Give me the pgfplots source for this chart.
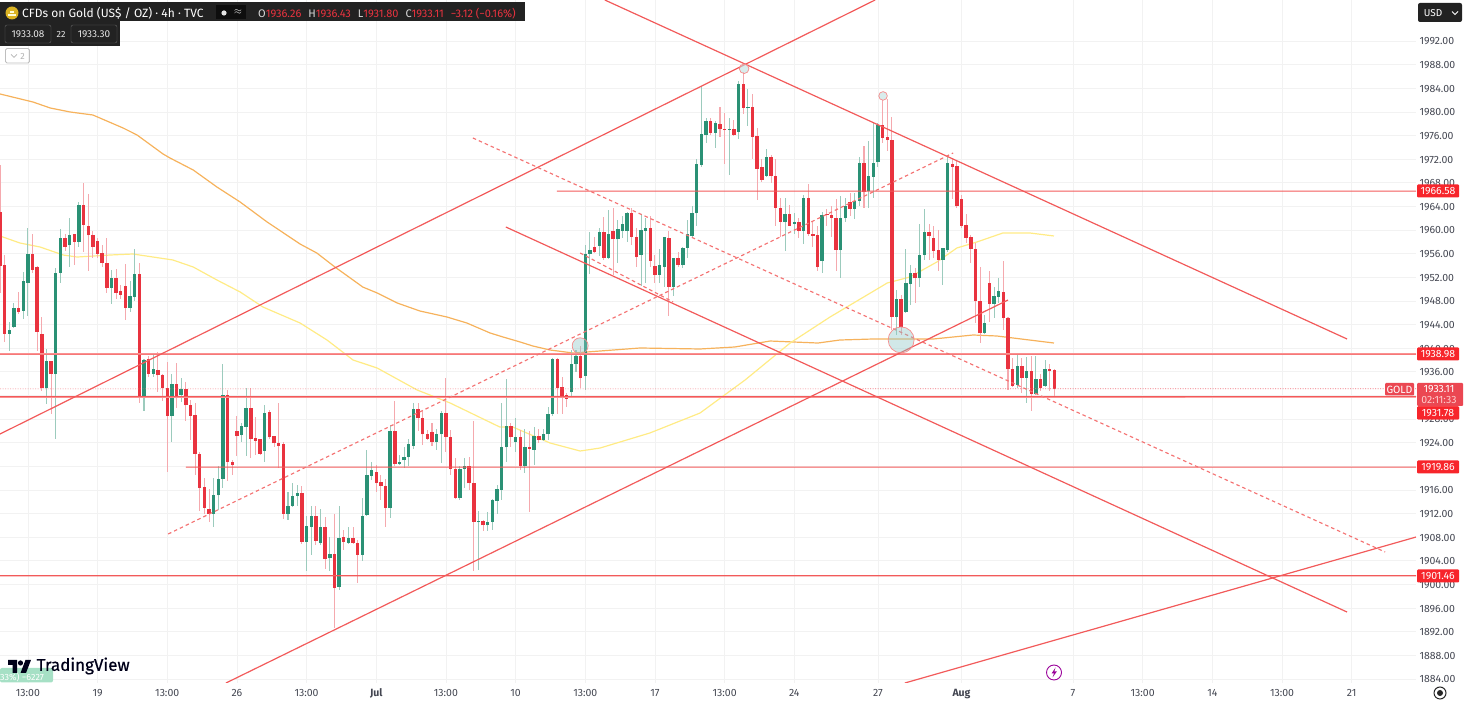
\documentclass[border=0pt]{standalone}
\usepackage{pgfplots}
\usepackage{pgfplotstable}
\usepackage{fontspec}
\setmainfont{Fira Sans}
\pgfplotsset{compat=1.18}
\definecolor{upc}{HTML}{2A9175}
\definecolor{dnc}{HTML}{E9333F}
\definecolor{upw}{HTML}{9CCBBD}
\definecolor{dnw}{HTML}{F5A9AE}
\definecolor{tl}{HTML}{F25A5A}
\definecolor{tlpale}{HTML}{FFB0B0}
\definecolor{hdr}{HTML}{222222}
\definecolor{txt}{HTML}{434651}
\definecolor{badge}{HTML}{F7252B}
\definecolor{maO}{HTML}{F6B25C}
\definecolor{maY}{HTML}{FFEB85}
\pgfplotstableread{
i o h l c
0 1963.1 1971.0 1949.3 1953.9
1 1954.0 1955.8 1941.1 1942.4
2 1942.4 1944.4 1939.6 1943.0
3 1943.6 1947.7 1943.4 1946.8
4 1946.8 1949.5 1945.8 1946.1
5 1946.3 1952.9 1944.9 1951.3
6 1951.1 1960.3 1945.5 1956.0
7 1956.0 1959.3 1952.8 1953.3
8 1953.7 1953.9 1939.5 1942.8
9 1942.4 1945.3 1932.8 1933.2
10 1933.2 1939.8 1930.6 1937.9
11 1937.8 1937.9 1928.9 1935.6
12 1935.6 1953.5 1924.7 1952.8
13 1952.8 1960.2 1951.0 1958.7
14 1958.7 1959.4 1956.5 1957.2
15 1957.4 1962.0 1953.7 1959.2
16 1959.3 1959.4 1954.1 1958.0
17 1958.0 1964.7 1957.1 1964.2
18 1964.2 1967.9 1956.2 1960.9
19 1960.7 1966.1 1953.0 1959.1
20 1959.2 1959.8 1955.2 1957.2
21 1958.1 1958.6 1955.2 1955.9
22 1956.1 1957.5 1953.8 1954.4
23 1954.5 1958.7 1949.3 1950.2
24 1950.2 1953.2 1947.5 1951.9
25 1951.9 1953.4 1948.4 1949.3
26 1949.6 1950.7 1948.3 1949.0
27 1950.5 1954.3 1944.7 1946.8
28 1946.8 1951.3 1946.2 1948.8
29 1948.7 1956.8 1948.0 1952.6
30 1952.6 1954.5 1930.7 1931.8
31 1931.8 1938.1 1929.4 1938.0
32 1938.1 1938.7 1935.2 1935.6
33 1935.7 1938.9 1935.2 1936.4
34 1936.3 1939.4 1932.5 1935.4
35 1935.4 1935.7 1931.0 1933.2
36 1933.2 1937.7 1919.1 1928.5
37 1928.5 1935.7 1924.2 1934.0
38 1934.0 1937.5 1929.8 1931.5
39 1932.1 1934.9 1930.9 1933.1
40 1933.1 1934.2 1927.6 1930.3
41 1930.4 1931.3 1924.5 1928.6
42 1928.7 1930.7 1918.5 1922.1
43 1922.0 1922.5 1912.5 1916.4
44 1916.5 1918.0 1912.0 1913.0
45 1912.8 1916.2 1910.5 1912.0
46 1912.0 1918.0 1909.8 1915.1
47 1915.1 1920.1 1912.6 1917.9
48 1917.9 1937.3 1916.3 1932.1
49 1932.1 1933.0 1917.5 1920.8
50 1920.8 1921.0 1918.5 1920.2
51 1926.0 1928.5 1921.8 1925.1
52 1925.3 1927.3 1924.2 1926.8
53 1926.7 1933.2 1921.8 1929.8
54 1929.8 1933.2 1921.4 1924.6
55 1924.8 1928.4 1921.9 1924.3
56 1924.6 1924.7 1921.9 1922.1
57 1922.6 1930.4 1920.7 1929.1
58 1929.2 1929.6 1924.6 1924.9
59 1925.1 1925.2 1923.2 1923.9
60 1924.0 1930.7 1919.7 1923.5
61 1923.8 1924.2 1911.1 1912.0
62 1912.0 1915.7 1910.9 1913.2
63 1913.3 1917.1 1913.2 1915.0
64 1915.0 1916.8 1913.2 1915.5
65 1915.5 1916.6 1906.9 1907.2
66 1907.2 1911.6 1902.3 1909.9
67 1909.7 1913.3 1905.0 1911.6
68 1911.6 1913.2 1906.7 1907.4
69 1907.0 1912.8 1906.7 1909.8
70 1909.8 1911.5 1902.6 1904.3
71 1904.4 1908.1 1902.2 1905.1
72 1905.1 1912.0 1892.7 1899.4
73 1899.6 1913.2 1899.1 1907.9
74 1908.0 1909.2 1905.8 1907.2
75 1907.0 1909.7 1906.9 1907.9
76 1907.9 1909.8 1906.9 1907.1
77 1907.1 1907.5 1900.2 1905.0
78 1905.0 1914.6 1903.9 1911.6
79 1911.8 1922.7 1911.6 1918.6
80 1918.4 1920.8 1917.6 1919.4
81 1919.0 1920.2 1915.6 1917.1
82 1917.3 1918.5 1914.3 1916.7
83 1916.7 1917.8 1909.8 1913.0
84 1913.0 1927.0 1911.3 1926.0
85 1926.0 1931.1 1920.1 1920.4
86 1920.4 1921.9 1920.2 1920.7
87 1921.0 1923.2 1919.7 1921.6
88 1921.5 1924.7 1920.1 1923.7
89 1923.5 1930.7 1923.0 1929.7
90 1929.7 1930.7 1925.9 1928.1
91 1928.2 1929.3 1923.6 1925.4
92 1925.4 1926.1 1924.5 1924.7
93 1925.8 1927.3 1923.4 1924.1
94 1924.1 1926.4 1922.8 1925.4
95 1925.4 1929.3 1920.6 1929.0
96 1929.0 1935.0 1922.5 1925.0
97 1925.0 1926.1 1918.5 1919.5
98 1919.5 1921.4 1914.4 1914.7
99 1914.7 1920.1 1914.3 1919.5
100 1919.5 1921.4 1916.3 1920.1
101 1920.1 1921.5 1916.0 1917.1
102 1917.1 1927.6 1902.3 1910.6
103 1910.5 1912.4 1902.4 1910.7
104 1910.7 1910.9 1909.1 1910.0
105 1910.0 1912.3 1909.1 1910.6
106 1910.6 1914.4 1909.3 1914.3
107 1914.1 1916.8 1912.0 1916.1
108 1916.0 1930.7 1914.3 1923.2
109 1923.2 1934.8 1920.8 1926.9
110 1926.9 1927.3 1923.3 1924.9
111 1924.1 1928.1 1922.5 1924.9
112 1924.9 1926.1 1919.4 1920.1
113 1920.1 1926.3 1918.8 1923.3
114 1923.3 1925.9 1912.3 1922.9
115 1922.8 1926.6 1920.2 1925.2
116 1925.2 1926.4 1923.9 1924.5
117 1924.5 1926.3 1924.3 1925.5
118 1925.4 1930.1 1924.5 1928.9
119 1928.9 1938.3 1928.5 1938.1
120 1938.2 1938.3 1928.9 1933.2
121 1933.4 1935.2 1928.9 1931.9
122 1932.0 1932.4 1930.1 1931.4
123 1932.5 1939.7 1931.8 1937.4
124 1937.3 1939.7 1936.0 1938.7
125 1938.6 1940.3 1933.2 1934.9
126 1935.3 1957.4 1933.0 1955.9
127 1955.9 1959.6 1952.6 1956.7
128 1957.2 1958.9 1956.1 1956.2
129 1957.3 1960.4 1955.6 1959.6
130 1959.6 1962.2 1954.9 1955.3
131 1955.3 1963.4 1955.2 1959.4
132 1959.8 1963.7 1952.4 1958.4
133 1958.4 1961.7 1954.4 1960.1
134 1959.8 1962.3 1958.6 1961.1
135 1959.9 1963.1 1957.9 1962.8
136 1962.8 1963.7 1957.5 1958.8
137 1958.9 1960.3 1953.8 1955.4
138 1955.8 1962.7 1950.5 1960.0
139 1959.9 1962.0 1951.0 1960.3
140 1960.3 1962.4 1953.8 1954.8
141 1953.9 1955.8 1951.0 1952.4
142 1952.4 1956.8 1951.0 1954.0
143 1953.8 1958.9 1950.4 1958.8
144 1958.6 1959.8 1945.4 1950.4
145 1950.3 1955.2 1948.8 1955.2
146 1955.2 1956.3 1953.8 1954.1
147 1954.1 1957.2 1953.5 1957.0
148 1957.0 1961.7 1955.2 1959.3
149 1959.0 1964.1 1958.9 1962.9
150 1962.8 1972.1 1960.6 1971.2
151 1971.0 1984.4 1970.7 1976.2
152 1976.1 1979.0 1974.7 1978.5
153 1978.5 1979.0 1976.1 1976.5
154 1976.5 1978.5 1973.8 1978.1
155 1978.0 1980.8 1975.8 1977.1
156 1977.1 1979.8 1971.2 1976.9
157 1976.9 1978.9 1969.3 1977.1
158 1977.1 1978.6 1976.0 1976.1
159 1976.6 1985.2 1975.4 1984.8
160 1984.8 1986.8 1979.6 1980.7
161 1980.6 1983.9 1977.6 1980.8
162 1980.8 1983.1 1972.0 1975.8
163 1975.9 1977.3 1965.1 1970.4
164 1970.6 1972.1 1968.1 1968.5
165 1969.2 1973.7 1969.0 1972.3
166 1972.3 1972.7 1967.9 1969.1
167 1969.2 1972.1 1960.6 1963.8
168 1963.8 1965.4 1958.9 1961.4
169 1961.4 1965.4 1956.5 1962.7
170 1962.7 1964.2 1960.6 1960.7
171 1961.0 1962.8 1959.4 1961.4
172 1961.4 1962.1 1958.6 1959.8
173 1959.9 1966.0 1957.6 1965.4
174 1965.4 1967.8 1959.0 1959.3
175 1959.3 1961.4 1957.1 1959.0
176 1959.1 1960.6 1953.0 1953.7
177 1954.8 1963.1 1952.8 1962.6
178 1962.7 1963.5 1960.6 1962.5
179 1962.6 1964.0 1958.9 1962.0
180 1962.0 1965.2 1953.0 1956.6
181 1956.6 1965.7 1951.9 1962.0
182 1962.0 1965.4 1961.4 1964.0
183 1964.8 1966.2 1962.4 1963.6
184 1963.6 1966.2 1961.8 1964.9
185 1964.9 1972.4 1964.0 1971.4
186 1971.4 1974.3 1963.7 1966.5
187 1966.6 1975.1 1963.8 1969.2
188 1969.0 1978.1 1965.5 1971.4
189 1971.5 1978.1 1970.6 1977.7
190 1977.7 1982.0 1974.7 1975.6
191 1975.7 1982.1 1973.3 1975.2
192 1975.2 1979.2 1943.1 1945.3
193 1945.3 1949.9 1942.2 1948.4
194 1948.4 1949.0 1942.2 1943.6
195 1946.1 1956.8 1945.9 1951.1
196 1950.8 1954.1 1947.3 1952.7
197 1952.7 1953.6 1947.7 1951.8
198 1951.8 1961.1 1950.4 1955.7
199 1955.8 1963.5 1954.9 1959.6
200 1959.6 1961.0 1954.9 1959.0
201 1958.7 1960.6 1955.2 1956.5
202 1956.6 1960.0 1953.1 1954.9
203 1954.9 1956.9 1950.7 1956.9
204 1956.7 1972.5 1956.2 1971.3
205 1971.2 1972.1 1965.3 1970.7
206 1970.8 1971.9 1963.7 1964.0
207 1965.2 1966.0 1960.3 1960.7
208 1960.9 1962.7 1957.8 1958.7
209 1958.8 1959.2 1954.4 1956.8
210 1956.8 1957.8 1944.2 1947.9
211 1947.9 1953.8 1940.8 1942.5
212 1942.6 1945.6 1942.5 1944.2
213 1951.1 1953.0 1944.4 1947.5
214 1947.5 1950.4 1945.1 1948.9
215 1948.7 1951.8 1947.6 1949.6
216 1949.5 1954.8 1943.1 1945.1
217 1945.1 1945.2 1932.9 1936.4
218 1936.5 1938.3 1933.4 1933.6
219 1933.8 1938.9 1933.2 1936.9
220 1936.9 1938.3 1932.4 1935.0
221 1935.0 1938.5 1930.8 1936.1
222 1936.1 1938.6 1929.3 1932.2
223 1932.2 1938.7 1932.1 1934.7
224 1934.7 1935.7 1932.8 1933.2
225 1933.6 1938.0 1933.5 1936.5
226 1936.5 1937.4 1932.8 1936.1
227 1936.26 1936.43 1931.80 1933.11
}\ohlc
\begin{document}
\begin{tikzpicture}
\useasboundingbox (0,0) rectangle (1465pt,703pt);
\begin{axis}[
  at={(0pt,20pt)}, anchor=south west, scale only axis,
  width=1416pt, height=683pt,
  xmin=0, xmax=304.84, ymin=1883.32, ymax=1998.94,
  axis line style={draw=none},
  clip mode=individual,
  major tick length=0pt,
  grid=major, grid style={color=black!5, line width=0.7pt},
  ytick={1884,1888,...,1992},
  yticklabel pos=right,
  xtick={6,21,36,51,66,81,96,111,126,141,156,171,189,207,231,246,261,276,291},
  xticklabels={13:00,19,13:00,26,13:00,\textbf{Jul},13:00,10,13:00,17,13:00,24,27,\textbf{Aug},7,13:00,14,13:00,21},
  yticklabel style={/pgf/number format/.cd, fixed, fixed zerofill, precision=2, 1000 sep={}, assume math mode=true, /tikz/yshift=-0.5pt},
  xticklabel style={yshift=-2.5pt},
  every tick label/.append style={font=\fontsize{10.5}{12}\selectfont, text=txt},
]
% moving averages
\addplot[color=maO, line width=1.2pt] coordinates {
(0,1983.03)(7.1,1981.67)(10.8,1980.66)(15.1,1979.98)(20,1979.47)(26.5,1977.27)(29.5,1976.09)(35.1,1972.87)(36.6,1972.19)(41.6,1970.16)(46.7,1967.28)(51.7,1964.74)(57.5,1961.36)(64.6,1957.63)(68.2,1956.11)(72.1,1953.74)(75.4,1951.88)(78.1,1950.35)(81.2,1949.34)(85.5,1947.65)(90.4,1946.29)(96.2,1945.28)(100.5,1944.26)(105.5,1942.57)(108.3,1941.89)(112,1941.04)(114.7,1940.37)(118.4,1939.69)(123.4,1939.18)(129.2,1939.52)(137.8,1940.03)(150.7,1939.86)(158.2,1940.2)(165.8,1941.21)(176.1,1940.87)(180.8,1941.38)(187.9,1941.55)(200.9,1941.55)(209.5,1942.23)(214.6,1942.06)(226.9,1940.87)};
\addplot[color=maY, line width=1.2pt] coordinates {
(0,1958.99)(4.3,1957.8)(8.6,1957.13)(13.6,1955.77)(16.6,1955.43)(23.7,1955.77)(28.6,1955.94)(37.2,1954.93)(41.6,1953.74)(46.7,1951.54)(51.7,1949.51)(56.6,1946.97)(59.6,1945.95)(64.6,1944.26)(70.4,1941.38)(76,1938)(81.2,1936.64)(89.8,1932.92)(96.9,1930.72)(107.6,1926.65)(110.4,1926.65)(118.4,1923.95)(124.9,1922.59)(129.2,1923.1)(139.9,1925.64)(150.7,1929.02)(160.4,1934.61)(170.1,1940.87)(178.7,1945.28)(191,1951.03)(195.9,1952.05)(201.7,1954.59)(206,1956.96)(210.3,1957.97)(215.9,1959.5)(221.7,1959.5)(226.9,1958.99)};
% wicks
\addplot[draw=none, mark=none, restrict expr to domain={\thisrow{c}-\thisrow{o}}{0:1000},
  error bars/.cd, y dir=both, y explicit, error mark=none, error bar style={line width=1.05pt, draw=upw}]
  table[x=i, y=o, y error plus expr=\thisrow{h}-\thisrow{o}, y error minus expr=\thisrow{o}-\thisrow{l}] {\ohlc};
\addplot[draw=none, mark=none, restrict expr to domain={\thisrow{c}-\thisrow{o}}{-1000:0},
  error bars/.cd, y dir=both, y explicit, error mark=none, error bar style={line width=1.05pt, draw=dnw}]
  table[x=i, y=o, y error plus expr=\thisrow{h}-\thisrow{o}, y error minus expr=\thisrow{o}-\thisrow{l}] {\ohlc};
% bodies
\addplot[draw=none, mark=none, restrict expr to domain={\thisrow{c}-\thisrow{o}}{0:1000},
  error bars/.cd, y dir=plus, y explicit, error mark=none, error bar style={line width=3.4pt, draw=upc}]
  table[x=i, y=o, y error plus expr=\thisrow{c}-\thisrow{o}] {\ohlc};
\addplot[draw=none, mark=none, restrict expr to domain={\thisrow{c}-\thisrow{o}}{-1000:0},
  error bars/.cd, y dir=plus, y explicit, error mark=none, error bar style={line width=3.4pt, draw=dnc}]
  table[x=i, y=c, y error plus expr=\thisrow{o}-\thisrow{c}] {\ohlc};
% price line
\addplot[draw=dnc!70, dash pattern=on 1pt off 1.5pt, line width=0.7pt] coordinates {(0,1933.11)(304.84,1933.115)};
% horizontal levels
\addplot[draw=tlpale, line width=2.4pt] coordinates {(0,1938.98)(304.84,1938.98)};
\addplot[draw=tlpale, line width=2.4pt] coordinates {(0,1931.78)(304.84,1931.78)};
\addplot[draw=tl, line width=1.1pt] coordinates {(0,1938.98)(304.84,1938.985)};
\addplot[draw=tl, line width=1.1pt] coordinates {(0,1931.78)(304.84,1931.785)};
\addplot[draw=tl, line width=1.2pt] coordinates {(119.9,1966.58)(304.84,1966.585)};
\addplot[draw=tl, line width=1.2pt] coordinates {(40,1919.86)(304.84,1919.865)};
\addplot[draw=tl, line width=1.2pt] coordinates {(0,1901.46)(304.84,1901.465)};
% trend lines
\addplot[color=tl, line width=1.2pt] coordinates {(0,1925.47)(188.4,1998.94)};
\addplot[color=tl, line width=1.2pt] coordinates {(130.2,1998.94)(290,1941.55)};
\addplot[color=tl, line width=1.2pt] coordinates {(108.9,1960.51)(290,1895.33)};
\addplot[color=tl, line width=1.2pt] coordinates {(48.65,1883.32)(217,1948.15)};
\addplot[color=tl, line width=1.2pt] coordinates {(194.8,1883.32)(304.84,1908.03)};
\addplot[color=tl!85, dash pattern=on 3.5pt off 3pt, line width=1.15pt] coordinates {(36.2,1908.54)(205.2,1973.04)};
\addplot[color=tl!85, dash pattern=on 3.5pt off 3pt, line width=1.15pt] coordinates {(101.8,1975.58)(298.2,1905.49)};
\addplot[color=tl!85, dash pattern=on 3.5pt off 3pt, line width=1.15pt] coordinates {(124.9,1956.11)(144.9,1947.82)};
% markers
\addplot[only marks, mark=*, mark size=13pt, mark options={draw=tl!70, fill=teal!45!white, fill opacity=0.4, line width=0.7pt}] coordinates {(194,1941.4)};
\addplot[only marks, mark=*, mark size=8pt, mark options={draw=tl!70, fill=teal!45!white, fill opacity=0.4, line width=0.7pt}] coordinates {(124.9,1940.4)};
\addplot[only marks, mark=*, mark size=4.8pt, mark options={draw=tl!70, fill=teal!25!white, fill opacity=0.6, line width=0.7pt}] coordinates {(160.2,1987.3)};
\addplot[only marks, mark=*, mark size=4.3pt, mark options={draw=tl!70, fill=teal!25!white, fill opacity=0.6, line width=0.7pt}] coordinates {(190.1,1982.7)};
\end{axis}
\begin{scope}[x=1pt,y=-1pt,yshift=703pt]
\tikzset{lab/.style={font=\fontsize{10.5}{12}\selectfont, text=white, inner sep=0pt}}
% price badges
\foreach \y/\t in {191/1966.58,354/1938.98,413/1931.78,467/1919.86,576/1901.46}{
  \fill[badge,rounded corners=1pt] (1417,\y-6.5) rectangle (1459,\y+6.5);
  \node[lab] at (1438,\y) {\t};
}
\fill[dnc!90!white,rounded corners=1pt] (1417,383) rectangle (1463,406);
\node[lab] at (1439,389.5) {1933.11};
\node[lab,text=white!80!red] at (1439,400) {02:11:33};
\fill[badge,rounded corners=1pt] (1417,406.5) rectangle (1459,419.5);
\node[lab] at (1438,413) {1931.78};
\fill[dnc!90!white,rounded corners=1pt] (1385,383) rectangle (1414,395.5);
\node[lab] at (1399.5,389.5) {GOLD};
% header
\fill[hdr] (0,2) rectangle (525,21.5);
\fill[hdr] (0,21.5) rectangle (120,46);
\fill[black!60!hdr] (216,5) rectangle (246,19);
\fill[white!90!black] (224,13) circle (2.6);
\node[font=\fontsize{10}{12}\selectfont,text=white,inner sep=0pt] at (238,12.5) {$\approx$};
\fill[yellow!60!orange!85!black] (12,13) circle (6.5);
\fill[white!85!yellow] (8,14.5) rectangle (16,16.5);
\fill[white!85!yellow] (10,11) rectangle (14,13.5);
\node[font=\fontsize{12}{14}\selectfont,text=white,inner sep=0pt,anchor=west] at (22,13) {CFDs on Gold (US\$ / OZ) · 4h · TVC};
\node[font=\fontsize{11}{12}\selectfont,text=white!85!black,inner sep=0pt,anchor=west] at (258,13.5) {O\textcolor{dnc}{1936.26}\hspace{7pt}H\textcolor{dnc}{1936.43}\hspace{7pt}L\textcolor{dnc}{1931.80}\hspace{7pt}C\textcolor{dnc}{1933.11}\hspace{7pt}\textcolor{dnc}{−3.12 (−0.16\%)}};
\draw[black!60,rounded corners=2pt] (5,25) rectangle (51,43);
\draw[black!60,rounded corners=2pt] (71,25) rectangle (117,43);
\node[font=\fontsize{10}{12}\selectfont,text=white!90!black,inner sep=0pt] at (28,34) {1933.08};
\node[font=\fontsize{9}{12}\selectfont,text=white!90!black,inner sep=0pt] at (61,34) {22};
\node[font=\fontsize{10}{12}\selectfont,text=white!90!black,inner sep=0pt] at (94,34) {1933.30};
\draw[black!25,rounded corners=1.5pt,line width=0.8pt] (5.5,48.5) rectangle (29.5,63);
\node[font=\fontsize{9}{12}\selectfont,text=black!30,inner sep=0pt] at (22.5,56) {2};
\draw[black!30,line width=0.7pt] (11,54.5) -- (14,57.5) -- (17,54.5);
% USD
\fill[hdr,rounded corners=2pt] (1418,3) rectangle (1462,22);
\node[font=\fontsize{10}{12}\selectfont,text=white,inner sep=0pt] at (1433,13) {USD};
\draw[white,line width=0.8pt] (1452,11.5) -- (1455,14.5) -- (1458,11.5);
% TradingView badge and logo
\fill[green!30!teal!35!white,rounded corners=2pt] (0,668) rectangle (53,682.5);
\node[font=\fontsize{9}{11}\selectfont,text=white,inner sep=0pt,anchor=west] at (0,677) {33\%) −6227};
\fill[black!90!blue] (8,660) -- (17,660) -- (17,673) -- (12.5,673) -- (12.5,665) -- (8,665) -- cycle;
\fill[black!90!blue] (20.5,663) circle (2.6);
\fill[black!90!blue] (25.5,660) -- (31,660) -- (26,673) -- (20.5,673) -- cycle;
\node[font=\fontsize{17}{20}\selectfont,text=black!90!blue,inner sep=0pt,anchor=west] at (36.5,666) {\addfontfeature{FakeBold=0.6}TradingView};
% lightning and target icons
\draw[violet!80!magenta,line width=0.9pt] (1054,672.5) circle (7.5);
\fill[violet!80!magenta] (1055.5,667.5) -- (1051.5,673.5) -- (1054,673.5) -- (1052.5,677.5) -- (1056.8,671.5) -- (1054.3,671.5) -- cycle;
\draw[black!85,line width=1pt] (1440,693) circle (6);
\fill[black!85] (1440,693) circle (3);
\end{scope}
\end{tikzpicture}
\end{document}
